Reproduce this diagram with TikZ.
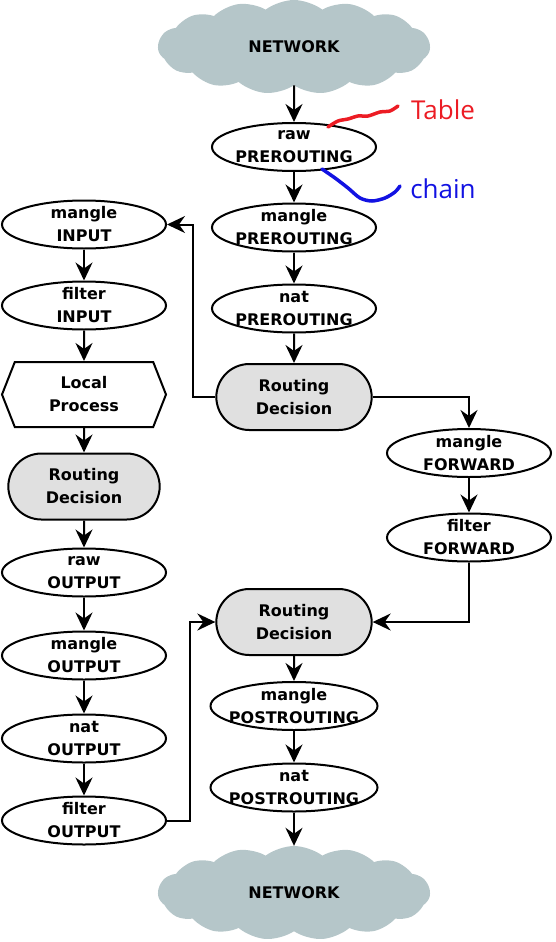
\documentclass[tikz,border=0pt]{standalone}
\usepackage{fontspec}
\setmainfont{DejaVu Sans}
\newfontfamily\notefont{Open Sans}
\usetikzlibrary{positioning,arrows.meta,shapes.geometric,shapes.symbols,shapes.misc}
\definecolor{netgray}{RGB}{181,198,201}
\definecolor{rdgray}{RGB}{224,224,224}
\definecolor{notered}{RGB}{236,28,36}
\definecolor{noteblue}{RGB}{18,18,226}
\tikzset{
  chainbox/.style={draw, ellipse, line width=2pt, fill=white, align=center, minimum width=164pt, minimum height=48pt, inner xsep=-6pt, inner ysep=-8pt, font=\bfseries\fontsize{16}{23}\selectfont},
  decision/.style={draw, rounded rectangle, line width=2pt, fill=rdgray, align=center, minimum width=162pt, minimum height=66pt, inner ysep=0pt, font=\bfseries\fontsize{16}{23}\selectfont},
  localbox/.style={draw, signal, signal to=east and west, signal pointer angle=137, line width=2pt, fill=white, align=center, minimum width=164pt, minimum height=65pt, inner ysep=0pt, font=\bfseries\fontsize{16}{23}\selectfont},
  netcloud/.style={cloud, cloud puffs=15, cloud puff arc=75, aspect=2.9, fill=netgray, minimum width=272pt, minimum height=94pt, font=\bfseries\fontsize{16}{18}\selectfont},
  arrow/.style={-{Stealth[length=18pt, width=17pt, inset=6pt]}, line width=2pt},
  note/.style={font=\notefont\fontsize{26}{30}\selectfont}
}
\begin{document}
\begin{tikzpicture}[x=1pt, y=1pt, node distance=31pt]
    \useasboundingbox (0,0) rectangle (555,-942);
    % incoming side
    \node[netcloud] (netin) at (294,-47) {NETWORK};
    \node[chainbox] (rawpre) at (294,-147) {raw\\PREROUTING};
    \node[chainbox, below=30.5pt of rawpre] (mangpre) {mangle\\PREROUTING};
    \node[chainbox, below=of mangpre] (natpre) {nat\\PREROUTING};
    \node[decision, below=29.5pt of natpre] (rdin) {Routing\\Decision};
    % local input and output
    \node[chainbox] (mangin) at (84,-224.5) {mangle\\INPUT};
    \node[chainbox, below=of mangin] (filtin) {filter\\INPUT};
    \node[localbox, below=30.5pt of filtin] (local) {Local\\Process};
    \node[decision, minimum width=158pt, below=24.5pt of local] (rdloc) {Routing\\Decision};
    \node[chainbox, below=27pt of rdloc] (rawout) {raw\\OUTPUT};
    \node[chainbox, below=33pt of rawout] (mangout) {mangle\\OUTPUT};
    \node[chainbox, below=33pt of mangout] (natout) {nat\\OUTPUT};
    \node[chainbox, below=32pt of natout] (filtout) {filter\\OUTPUT};
    % forward
    \node[chainbox] (mangfwd) at (469,-453) {mangle\\FORWARD};
    \node[chainbox, below=34.5pt of mangfwd] (filtfwd) {filter\\FORWARD};
    % outgoing side
    \node[decision] (rdout) at (294,-622) {Routing\\Decision};
    \node[chainbox, below=25pt of rdout] (mangpost) {mangle\\POSTROUTING};
    \node[chainbox, below=31.5pt of mangpost] (natpost) {nat\\POSTROUTING};
    \node[netcloud] (netout) at (294,-893) {NETWORK};

    \draw[arrow] (netin) -- (rawpre);
    \draw[arrow] (rawpre) -- (mangpre);
    \draw[arrow] (mangpre) -- (natpre);
    \draw[arrow] (natpre) -- (rdin);
    \draw[arrow] (rdin.west) -- ++(-22,0) |- (mangin.east);
    \draw[arrow] (rdin.east) -| (mangfwd.north);
    \draw[arrow] (mangin) -- (filtin);
    \draw[arrow] (filtin) -- (local);
    \draw[arrow] (local) -- (rdloc);
    \draw[arrow] (rdloc) -- (rawout);
    \draw[arrow] (rawout) -- (mangout);
    \draw[arrow] (mangout) -- (natout);
    \draw[arrow] (natout) -- (filtout);
    \draw[arrow] (filtout.east) -- ++(23,0) |- (rdout.west);
    \draw[arrow] (mangfwd) -- (filtfwd);
    \draw[arrow] (filtfwd.south) |- (rdout.east);
    \draw[arrow] (rdout) -- (mangpost);
    \draw[arrow] (mangpost) -- (natpost);
    \draw[arrow] (natpost) -- (netout);

    % hand-drawn notes
    \node[note, text=notered] (tbl) at (443,-110) {Table};
    \node[note, text=noteblue] (chn) at (443,-189) {chain};
    \draw[notered, line width=3.5pt, line cap=round] plot[smooth] coordinates {(328,-127) (338,-121) (348,-119) (358,-116) (368,-116) (380,-112) (390,-111) (398,-106)};
    \draw[noteblue, line width=3.5pt, line cap=round] plot[smooth] coordinates {(322,-169) (335,-178) (348,-188) (360,-198) (372,-201) (385,-198) (395,-192) (400,-186)};
  \end{tikzpicture}
\end{document}
